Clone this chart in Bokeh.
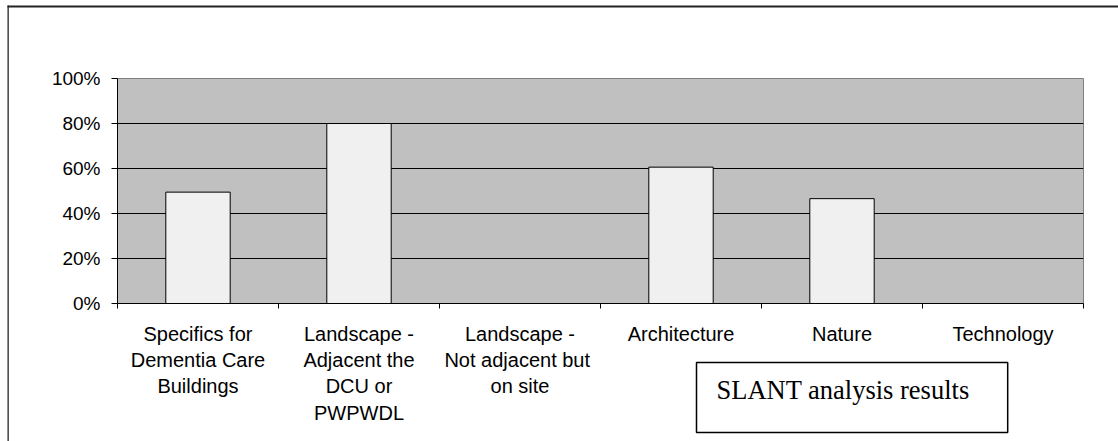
from bokeh.plotting import figure
from bokeh.models import (Range1d, LinearAxis, FixedTicker, NumeralTickFormatter,
                          Label, ColumnDataSource)
from bokeh.embed import file_html
from bokeh.resources import INLINE

# ---- data ----
categories = ["Specifics for Dementia Care Buildings",
              "Landscape - Adjacent the DCU or PWPWDL",
              "Landscape - Not adjacent  but on site",
              "Architecture", "Nature", "Technology"]
category_labels = ["Specifics for\nDementia Care\nBuildings",
                   "Landscape -\nAdjacent the\nDCU or\nPWPWDL",
                   "Landscape -\nNot adjacent  but\non site",
                   "Architecture", "Nature", "Technology"]
values = [0.495, 0.80, 0.0, 0.606, 0.466, 0.0]
y_ticks = [0.0, 0.2, 0.4, 0.6, 0.8, 1.0]
box_text = "SLANT analysis results"

# ---- layout constants (pixels inside the canvas) ----
W, H = 1118, 441
FL, FT, FR, FB = 117, 78, 1083, 303
N = len(categories)
centers = [i + 0.5 for i in range(N)]   # category slot centres on the x scale
edges = list(range(N + 1))              # category slot boundaries

SANS = "Liberation Sans"
SERIF = "Liberation Serif"

p = figure(width=W, height=H, x_range=Range1d(0, N), y_range=Range1d(0, 1),
           x_axis_location=None, output_backend="svg", toolbar_location=None,
           min_border_left=FL, min_border_right=W - FR, min_border_top=FT,
           min_border_bottom=H - FB)

p.background_fill_color = "#C0C0C0"
p.border_fill_color = "white"
p.outline_line_color = "#808080"
p.outline_line_width = 1

p.xgrid.visible = False
p.ygrid.ticker = FixedTicker(ticks=y_ticks[1:-1])
p.ygrid.grid_line_color = "black"
p.ygrid.grid_line_width = 1

ya = p.yaxis[0]
ya.ticker = FixedTicker(ticks=y_ticks)
ya.formatter = NumeralTickFormatter(format="0%")
ya.axis_line_color = "black"
ya.major_tick_line_color = "black"
ya.major_tick_out = 6
ya.major_tick_in = 0
ya.minor_tick_line_color = None
ya.major_label_standoff = 11
ya.major_label_text_font = SANS
ya.major_label_text_font_size = "19px"
ya.major_label_text_color = "black"

edge_axis = LinearAxis(ticker=FixedTicker(ticks=edges),
                       axis_line_color="black", major_tick_line_color="black",
                       major_tick_out=5, major_tick_in=0, minor_tick_line_color=None,
                       major_label_text_font_size="0px", major_label_text_color=None,
                       major_label_standoff=0)
p.add_layout(edge_axis, "below")

cat_axis = LinearAxis(ticker=FixedTicker(ticks=centers),
                      major_label_overrides={c: lab for c, lab in zip(centers, category_labels)},
                      axis_line_color=None, major_tick_line_color=None,
                      minor_tick_line_color=None,
                      major_tick_out=0, major_tick_in=0, major_label_standoff=14,
                      major_label_text_font=SANS, major_label_text_font_size="20px",
                      major_label_text_line_height=1.2, major_label_text_color="black")
p.add_layout(cat_axis, "below")

src = ColumnDataSource(dict(x=centers, val=values, name=categories))
p.vbar(x="x", top="val", width=0.4, source=src, fill_color="#F0F0F0",
       line_color="black", line_width=1)

# outer frame: top edge and left edge (right/bottom run off the page)
p.add_layout(Label(x=7, y=5, x_units="canvas", y_units="canvas", text=" ",
                   text_font_size="1px", text_align="left", text_baseline="top",
                   background_fill_color="#222222", background_fill_alpha=1,
                   padding=dict(top=0, left=0, right=W - 7, bottom=1)), "above")
p.add_layout(Label(x=7, y=5, x_units="canvas", y_units="canvas", text=" ",
                   text_font_size="1px", text_align="left", text_baseline="top",
                   background_fill_color="#222222", background_fill_alpha=1,
                   padding=dict(top=0, left=0, right=1, bottom=H - 5)), "left")

# text box with its caption
p.add_layout(Label(x=696, y=362, x_units="canvas", y_units="canvas", text=box_text,
                   text_font=SERIF, text_font_size="26.5px", text_color="black",
                   text_align="left", text_baseline="top",
                   background_fill_color="white", background_fill_alpha=1,
                   border_line_color="black", border_line_width=1.5,
                   padding=dict(top=12, left=20, right=38, bottom=28)), "above")

open("out.html", "w").write(file_html(p, INLINE))
